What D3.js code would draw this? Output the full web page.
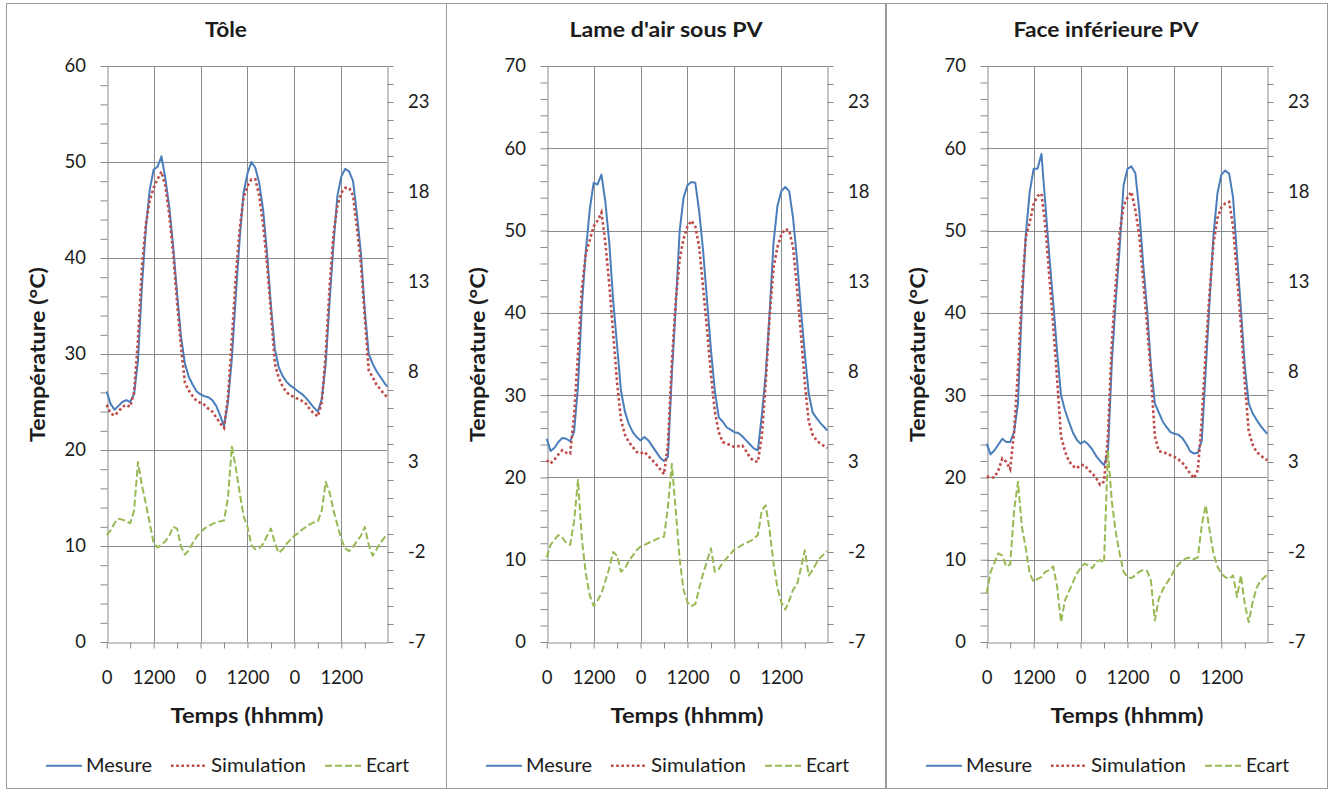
<!DOCTYPE html>
<html><head><meta charset="utf-8">
<script src="https://cdn.jsdelivr.net/npm/d3@7"></script>
<style>
body{margin:0;background:#fff}
svg text{font-family:Lato,'Open Sans',sans-serif;fill:#1c1c1c}
</style>
</head><body>
<svg id="c" width="1330" height="791"></svg>
<script>
// ---------- data ----------
const hours = [0,1,2,3,4,5,6,7,8,9,10,11,12,13,14,15,16,17,18,19,20,21,22,23,24,25,26,27,28,29,30,31,32,33,34,35,36,37,38,39,40,41,42,43,44,45,46,47,48,49,50,51,52,53,54,55,56,57,58,59,60,61,62,63,64,65,66,67,68,69,70,71,71.75];
const titles = ["Tôle", "Lame d'air sous PV", "Face inférieure PV"];
const leftMax = [60, 70, 70];
const xTickHours = [0, 12, 24, 36, 48, 60];
const xTickLabels = ["0", "1200", "0", "1200", "0", "1200"];
const rightTickLabels = [-7, -2, 3, 8, 13, 18, 23];
const seriesNames = ["Mesure", "Simulation", "Ecart"];
const xAxisTitle = "Temps (hhmm)";
const yAxisTitle = "Température (°C)";

const tole_mesure = [26.1,24.8,24.2,24.6,25.0,25.2,25.0,25.8,29.3,37.0,43.0,47.1,49.2,49.5,50.6,48.3,45.3,41.2,36.3,31.8,29.0,27.6,26.8,26.1,25.8,25.6,25.5,25.2,24.6,23.6,22.5,25.0,29.5,36.0,42.0,46.8,48.8,50.0,49.4,47.8,45.0,40.5,35.0,30.5,28.6,27.7,27.1,26.7,26.4,26.1,25.8,25.4,24.9,24.4,24.0,25.3,29.0,35.5,41.5,46.5,48.5,49.3,49.0,48.0,44.5,40.5,34.5,30.0,29.0,28.2,27.6,27.0,26.6];
const tole_simulation = [24.7,23.8,23.6,24.0,24.5,24.7,24.5,26.0,31.5,39.0,43.5,46.0,47.3,48.2,49.0,47.5,44.5,40.5,35.3,30.8,27.0,26.2,25.6,25.1,24.9,24.7,24.3,24.0,23.4,22.8,22.3,25.5,31.5,38.0,43.0,46.3,47.5,48.2,48.2,46.5,43.5,39.4,34.3,29.0,27.5,26.6,26.0,25.7,25.5,25.3,25.1,24.8,24.2,23.8,23.5,25.0,30.0,37.0,42.5,45.5,46.8,47.3,47.3,46.5,43.1,39.4,33.8,28.3,27.6,26.8,26.3,25.8,25.5];
const tole_ecart = [-1.06,-0.8,-0.4,-0.15,-0.2,-0.3,-0.4,0.3,3.0,1.7,0.7,-0.4,-1.5,-1.75,-1.6,-1.4,-1.1,-0.6,-0.7,-1.7,-2.15,-1.9,-1.5,-1.15,-0.9,-0.7,-0.55,-0.45,-0.35,-0.3,-0.25,1.0,3.85,2.7,1.3,0.0,-0.6,-1.6,-1.85,-1.8,-1.55,-1.1,-0.7,-1.5,-2.05,-1.85,-1.55,-1.3,-1.1,-0.95,-0.75,-0.6,-0.45,-0.35,-0.3,0.3,1.9,1.3,0.3,-0.5,-1.3,-1.8,-1.95,-1.7,-1.4,-1.1,-0.6,-1.6,-2.2,-1.85,-1.5,-1.2,-1.0];

const lame_mesure = [24.7,23.2,23.6,24.3,24.8,24.7,24.4,25.5,31.0,41.0,47.5,52.5,55.8,55.6,56.8,53.5,48.5,41.5,36.0,30.5,28.0,26.5,25.5,24.9,24.5,24.9,24.5,23.8,23.1,22.4,22.0,22.5,32.5,40.8,50.0,54.0,55.5,55.9,55.8,52.3,47.5,41.5,35.5,30.5,27.3,26.8,26.1,25.8,25.5,25.4,25.0,24.5,24.0,23.5,23.3,27.5,32.5,40.0,48.5,53.0,54.8,55.3,54.8,51.5,46.5,40.5,35.0,30.2,27.9,27.2,26.6,26.1,25.7];
const lame_simulation = [22.1,21.7,22.2,22.8,23.3,23.0,22.9,27.5,35.0,43.0,47.2,48.8,50.5,51.2,52.2,48.5,43.5,37.5,31.5,27.0,25.2,24.3,23.7,23.1,22.9,23.1,22.6,22.1,21.6,21.0,20.4,24.0,34.0,41.5,46.5,49.0,50.5,51.2,50.5,48.0,43.0,38.0,32.5,28.0,25.5,24.3,24.1,23.9,23.7,23.8,23.9,23.2,22.4,22.0,21.9,25.0,31.5,39.5,45.5,48.0,49.5,50.2,50.0,48.0,43.0,37.5,31.5,26.8,25.2,24.5,24.1,23.8,23.6];
const lame_ecart = [-2.3,-1.6,-1.3,-1.06,-1.2,-1.5,-1.6,-0.3,2.0,-1.3,-3.2,-4.4,-5.0,-4.7,-4.3,-3.6,-2.9,-2.0,-2.2,-3.1,-2.9,-2.5,-2.2,-1.9,-1.7,-1.6,-1.5,-1.4,-1.3,-1.2,-1.15,0.5,2.9,0.3,-2.4,-4.1,-4.8,-5.0,-4.9,-4.0,-3.2,-2.5,-1.8,-3.1,-2.95,-2.6,-2.35,-2.1,-1.85,-1.75,-1.6,-1.5,-1.4,-1.25,-1.05,0.3,0.6,-0.8,-2.6,-4.0,-4.8,-5.2,-4.7,-4.1,-3.8,-2.9,-1.9,-3.3,-3.0,-2.6,-2.3,-2.1,-1.95];

const face_mesure = [24.1,22.8,23.3,24.0,24.7,24.3,24.3,25.5,29.0,41.0,49.5,54.7,57.5,57.5,59.3,53.2,47.0,41.3,35.3,30.0,28.2,26.8,25.5,24.6,24.1,24.4,24.0,23.4,22.6,22.0,21.5,23.0,34.0,41.5,48.0,55.5,57.5,57.8,57.0,52.5,46.0,40.5,33.5,29.0,27.9,26.8,26.1,25.5,25.3,25.2,24.8,24.1,23.2,22.9,23.0,24.5,33.0,41.5,49.5,54.5,56.8,57.3,56.9,54.0,47.0,40.5,33.5,29.0,27.8,27.0,26.3,25.7,25.3];
const face_simulation = [20.1,20.0,20.0,20.9,22.3,21.9,21.0,25.5,33.0,42.5,49.2,51.0,53.2,54.2,54.5,50.5,44.5,38.5,32.0,25.0,23.2,22.0,21.4,21.1,21.5,21.5,20.9,20.5,19.9,19.1,19.5,25.0,36.5,43.5,49.7,53.0,54.0,54.7,52.5,49.5,44.0,38.5,32.5,25.0,23.2,23.1,22.9,22.7,22.5,22.2,21.8,21.2,20.5,19.9,20.9,27.0,35.5,42.5,48.5,51.5,52.8,53.3,53.5,50.5,44.5,38.5,31.5,25.6,24.0,23.1,22.7,22.3,22.1];
const face_ecart = [-4.3,-3.1,-2.6,-2.07,-2.2,-2.8,-2.7,0.3,1.9,-0.6,-1.8,-3.2,-3.65,-3.5,-3.4,-3.1,-3.0,-2.8,-3.9,-5.9,-4.7,-4.2,-3.7,-3.2,-2.9,-2.65,-2.75,-2.9,-2.55,-2.45,-2.6,3.6,0.8,-0.9,-2.1,-3.1,-3.4,-3.45,-3.3,-3.1,-3.0,-3.05,-3.6,-5.8,-4.6,-4.1,-3.75,-3.4,-3.0,-2.7,-2.5,-2.35,-2.3,-2.4,-2.3,-0.5,0.6,-0.8,-2.1,-2.8,-3.2,-3.4,-3.5,-3.3,-4.5,-3.3,-4.9,-5.9,-4.8,-4.0,-3.6,-3.4,-3.25];

// ---------- drawing ----------
const svg = d3.select("#c");
const panelLeft = [6, 446, 886];
const panelWidth = [441, 439, 441];
const titleWidth = [42, 193, 185];
const colors = {mes: "#4a7ebb", sim: "#be4b48", ec: "#98b954"};
const grey = "#8a8a8a";
const TOP = 66, BOTTOM = 642;

const panels = [
  {mes: tole_mesure, sim: tole_simulation, ec: tole_ecart},
  {mes: lame_mesure, sim: lame_simulation, ec: lame_ecart},
  {mes: face_mesure, sim: face_simulation, ec: face_ecart}
];

panels.forEach((p, i) => {
  const pl = panelLeft[i];
  const g = svg.append("g");
  g.append("rect").attr("x", pl + 0.5).attr("y", 3.5)
    .attr("width", panelWidth[i]).attr("height", 785)
    .attr("fill", "#fff").attr("stroke", "#9a9a9a").attr("stroke-width", 1);

  const x0 = pl + 100.7, x1 = x0 + 280.6;
  const x = d3.scaleLinear().domain([0, 71.75]).range([x0, x1]);
  const y = d3.scaleLinear().domain([0, leftMax[i]]).range([BOTTOM, TOP]);
  const y2 = d3.scaleLinear().domain([-7, 25]).range([BOTTOM, TOP]);

  // gridlines
  g.append("g").selectAll("line").data(d3.range(10, leftMax[i] + 1, 10)).join("line")
    .attr("x1", x0).attr("x2", x1)
    .attr("y1", d => Math.round(y(d)) + 0.5).attr("y2", d => Math.round(y(d)) + 0.5)
    .attr("stroke", grey).attr("stroke-width", 1);
  g.append("g").selectAll("line").data(xTickHours.slice(1)).join("line")
    .attr("y1", TOP).attr("y2", BOTTOM)
    .attr("x1", d => Math.round(x(d)) + 0.5).attr("x2", d => Math.round(x(d)) + 0.5)
    .attr("stroke", grey).attr("stroke-width", 1);

  const fs = "18.5px";
  const la = g.append("g").attr("transform", `translate(${Math.round(x0) + 0.5},0)`)
    .call(d3.axisLeft(y).tickValues(d3.range(0, leftMax[i] + 0.1, 2))
      .tickSize(7).tickSizeOuter(0).tickPadding(14.5)
      .tickFormat(d => d % 10 === 0 ? String(d) : ""));
  const ra = g.append("g").attr("transform", `translate(${Math.round(x1) + 0.5},0)`)
    .call(d3.axisRight(y2).tickValues(d3.range(-7, 25.1, 1))
      .tickSize(6).tickSizeOuter(0).tickPadding(14.5)
      .tickFormat(d => rightTickLabels.includes(d) ? String(d) : ""));
  const ba = g.append("g").attr("transform", `translate(0,${BOTTOM + 0.5})`)
    .call(d3.axisBottom(x).tickValues(d3.range(0, 67, 6))
      .tickSize(6).tickSizeOuter(0).tickPadding(22)
      .tickFormat(d => { const k = xTickHours.indexOf(d); return k >= 0 ? xTickLabels[k] : ""; }));
  [la, ra, ba].forEach(a => {
    a.select(".domain").attr("stroke", grey);
    a.selectAll(".tick line").attr("stroke", grey);
    a.selectAll(".tick text").style("font-size", fs).style("font-family", "Lato").attr("fill", "#1c1c1c");
  });

  const lineL = d3.line().x((d, j) => x(hours[j])).y(d => y(d));
  const lineR = d3.line().x((d, j) => x(hours[j])).y(d => y2(d));
  g.append("path").datum(p.mes).attr("d", lineL).attr("fill", "none")
    .attr("stroke", colors.mes).attr("stroke-width", 2).attr("stroke-linejoin", "round");
  g.append("path").datum(p.sim).attr("d", lineL).attr("fill", "none")
    .attr("stroke", colors.sim).attr("stroke-width", 2.6).attr("stroke-dasharray", "2.6 2.6");
  g.append("path").datum(p.ec).attr("d", lineR).attr("fill", "none")
    .attr("stroke", colors.ec).attr("stroke-width", 2).attr("stroke-dasharray", "7 3")
    .attr("stroke-linejoin", "round");

  // titles
  g.append("text").attr("x", pl + 220).attr("y", 37.3).attr("text-anchor", "middle")
    .attr("textLength", titleWidth[i]).attr("lengthAdjust", "spacingAndGlyphs")
    .style("font-size", "21px").style("font-weight", "bold").text(titles[i]);
  g.append("text").attr("x", (x0 + x1) / 2).attr("y", 722.7).attr("text-anchor", "middle")
    .attr("textLength", 153).attr("lengthAdjust", "spacingAndGlyphs")
    .style("font-size", "21px").style("font-weight", "bold").text(xAxisTitle);
  g.append("text").attr("transform", `translate(${pl + 39},354.5) rotate(-90)`)
    .attr("text-anchor", "middle")
    .attr("textLength", 175).attr("lengthAdjust", "spacingAndGlyphs")
    .style("font-size", "21px").style("font-weight", "bold").text(yAxisTitle);

  // legend
  const leg = [
    {lx: 40, tx: 80, tw: 66, c: colors.mes, w: 2, dash: null},
    {lx: 165, tx: 205, tw: 95, c: colors.sim, w: 2.6, dash: "2.6 2.6"},
    {lx: 319, tx: 360, tw: 43, c: colors.ec, w: 2, dash: "7 3"}
  ];
  leg.forEach((l, k) => {
    const ln = g.append("line").attr("x1", pl + l.lx).attr("x2", pl + l.lx + 36)
      .attr("y1", 765.7).attr("y2", 765.7).attr("stroke", l.c).attr("stroke-width", l.w);
    if (l.dash) ln.attr("stroke-dasharray", l.dash);
    g.append("text").attr("x", pl + l.tx).attr("y", 771.7)
      .attr("textLength", l.tw).attr("lengthAdjust", "spacingAndGlyphs")
      .style("font-size", "19.5px").text(seriesNames[k]);
  });
});
</script>
</body></html>
